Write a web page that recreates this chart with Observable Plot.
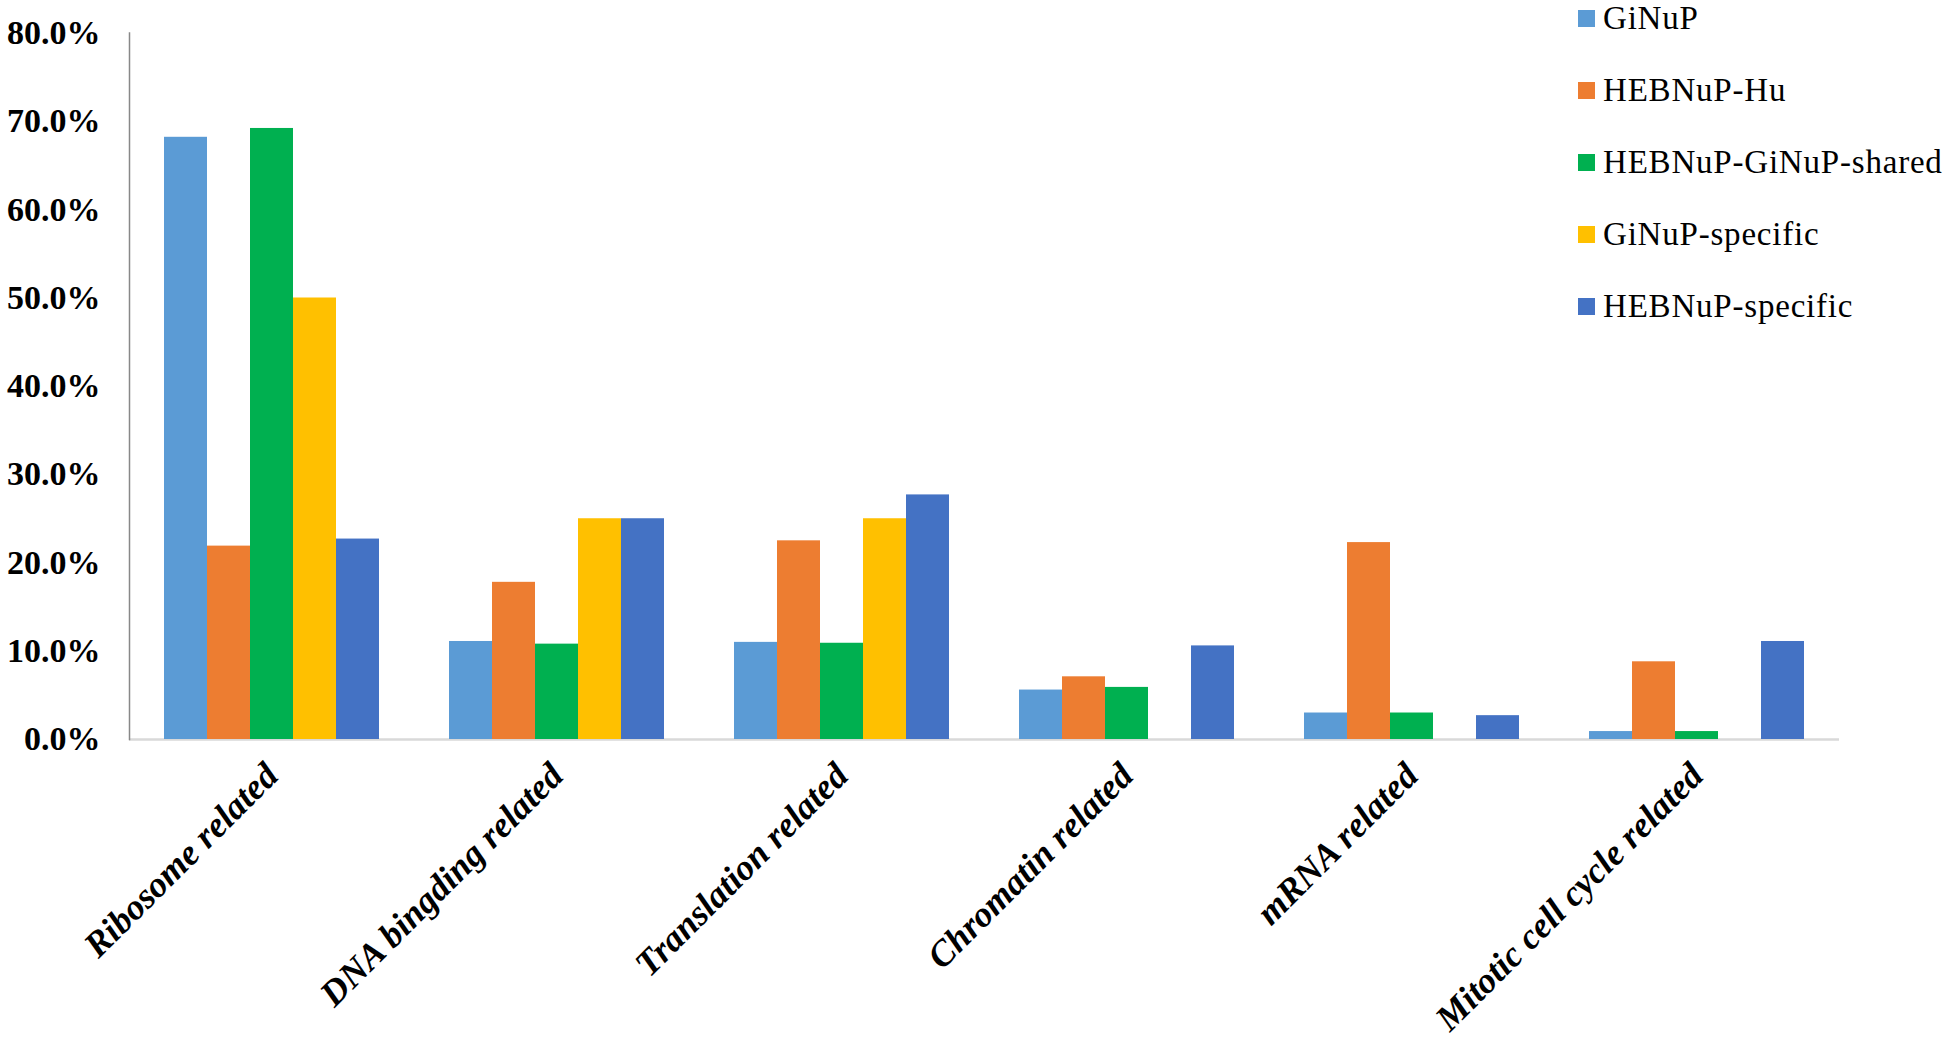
<!DOCTYPE html>
<html><head><meta charset="utf-8">
<script src="https://cdn.jsdelivr.net/npm/d3@7"></script>
<script src="https://cdn.jsdelivr.net/npm/@observablehq/plot@0.6"></script>
<style>
body{margin:0;background:#fff;}
#wrap{position:relative;width:1946px;height:1037px;}
#legend{position:absolute;left:1578px;top:0;font-family:"Liberation Serif","Times New Roman",serif;font-size:33px;line-height:26px;color:#000;letter-spacing:0.8px;}
.row{position:absolute;left:0;display:flex;align-items:center;white-space:nowrap;height:26px;}
.sw{width:17px;height:17px;margin-right:8px;flex:none;}
</style></head><body><div id="wrap"><div id="legend"></div></div>
<script>
const categories = ["Ribosome related","DNA bingding related","Translation related","Chromatin related","mRNA related","Mitotic cell cycle related"];
const series = ["GiNuP","HEBNuP-Hu","HEBNuP-GiNuP-shared","GiNuP-specific","HEBNuP-specific"];
const colors = ["#5B9BD5","#ED7D31","#00B050","#FFC000","#4472C4"];
const GiNuP = [68.2, 11.1, 11.0, 5.6, 3.0, 0.9];
const HEBNuP_Hu = [21.9, 17.8, 22.5, 7.1, 22.3, 8.8];
const shared = [69.2, 10.8, 10.9, 5.9, 3.0, 0.9];
const GiNuP_specific = [50.0, 25.0, 25.0, 0, 0, 0];
const HEBNuP_specific = [22.7, 25.0, 27.7, 10.6, 2.7, 11.1];
const yTicks = [0,10,20,30,40,50,60,70,80];

const seriesValues = [GiNuP, HEBNuP_Hu, shared, GiNuP_specific, HEBNuP_specific];
const data = [];
series.forEach((s,i)=>categories.forEach((c,j)=>data.push({category:c, series:s, value:seriesValues[i][j]})));

const chart = Plot.plot({
  width:1946, height:1037,
  marginLeft:128, marginRight:107, marginTop:32.6, marginBottom:298,
  fx:{domain:categories, padding:0, label:null},
  x:{domain:series, paddingInner:0, paddingOuter:0.763, axis:null},
  y:{domain:[0,80], label:null},
  color:{domain:series, range:colors},
  style:{fontFamily:"'Liberation Serif', 'Times New Roman', serif", background:"#fff", color:"#000"},
  marks:[
    Plot.ruleY([0],{stroke:"#d9d9d9", strokeWidth:2.5}),
    Plot.barY(data,{fx:"category", x:"series", y:"value", fill:"series"}),
    Plot.frame({anchor:"left", stroke:"#888", strokeWidth:1.5, facetAnchor:"left"}),
    Plot.axisY({ticks:yTicks, tickSize:0, tickPadding:29, tickFormat:d=>d.toFixed(1)+"%", fontSize:34, fontWeight:"bold", label:null}),
    Plot.axisFx({anchor:"bottom", tickRotate:-45, tickSize:0, tickPadding:30, fontSize:36, fontWeight:"bold", fontStyle:"italic", label:null})
  ]
});
document.getElementById("wrap").appendChild(chart);

const legend = document.getElementById("legend");
series.forEach((s,i)=>{
  const row = document.createElement("div");
  row.className="row";
  row.style.top = (5 + i*72) + "px";
  const sw = document.createElement("div");
  sw.className="sw"; sw.style.background = colors[i];
  const t = document.createElement("span"); t.textContent = s;
  row.appendChild(sw); row.appendChild(t);
  legend.appendChild(row);
});
</script>
</body></html>
